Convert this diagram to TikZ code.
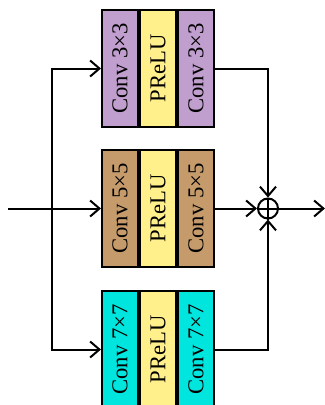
\documentclass[tikz,border=0pt]{standalone}
\usepackage{fontspec}
\setmainfont{Liberation Serif}
\usetikzlibrary{positioning,arrows.meta}

\definecolor{convpurple}{RGB}{192,158,206}
\definecolor{convbrown}{RGB}{198,155,108}
\definecolor{convcyan}{RGB}{0,230,222}
\definecolor{preluyellow}{RGB}{255,240,140}

\tikzset{
  cell/.style={draw, line width=1.5pt, minimum width=27pt, minimum height=87.75pt,
               inner sep=0pt, font=\fontsize{17}{20}\selectfont},
  conv/.style={cell, fill=#1},
  prelu/.style={cell, fill=preluyellow},
  link/.style={line width=1.5pt},
  arr/.style={link, -{Straight Barb[length=7pt,width=12pt]}},
  sumnode/.style={draw, circle, line width=1.5pt, minimum size=15pt, inner sep=0pt}
}

\begin{document}
\begin{tikzpicture}[x=0.75pt,y=0.75pt]
  \useasboundingbox (0,0) rectangle (325,405);

  % Drawing top branch 3x3
  \node[conv=convpurple] (t1) at (120,336.5) {\rotatebox{90}{Conv 3×3}};
  \node[prelu, right=0pt of t1] (t2) {\rotatebox{90}{PReLU}};
  \node[conv=convpurple, right=0pt of t2] (t3) {\rotatebox{90}{Conv 3×3}};

  % Drawing middle branch 5x5
  \node[conv=convbrown] (m1) at (120,196.5) {\rotatebox{90}{Conv 5×5}};
  \node[prelu, right=0pt of m1] (m2) {\rotatebox{90}{PReLU}};
  \node[conv=convbrown, right=0pt of m2] (m3) {\rotatebox{90}{Conv 5×5}};

  % Drawing bottom branch 7x7
  \node[conv=convcyan] (b1) at (120,55.5) {\rotatebox{90}{Conv 7×7}};
  \node[prelu, right=0pt of b1] (b2) {\rotatebox{90}{PReLU}};
  \node[conv=convcyan, right=0pt of b2] (b3) {\rotatebox{90}{Conv 7×7}};

  % Marking input, split and output points
  \coordinate (in) at (8,196.5);
  \coordinate (split) at (52,196.5);
  \node[sumnode] (sum) at (268,196.5) {};
  \coordinate (out) at (325,196.5);

  % Drawing input and split
  \draw[arr] (in) -- (m1.west);
  \draw[arr] (split) |- (t1.west);
  \draw[arr] (split) |- (b1.west);

  % Drawing merge
  \draw[link] (sum.north) -- (sum.south);
  \draw[link] (sum.west) -- (sum.east);
  \draw[arr] (t3.east) -| (sum.north);
  \draw[arr] (b3.east) -| (sum.south);
  \draw[arr] (m3.east) -- (sum.west);
  \draw[arr] (sum.east) -- (out);
\end{tikzpicture}
\end{document}
